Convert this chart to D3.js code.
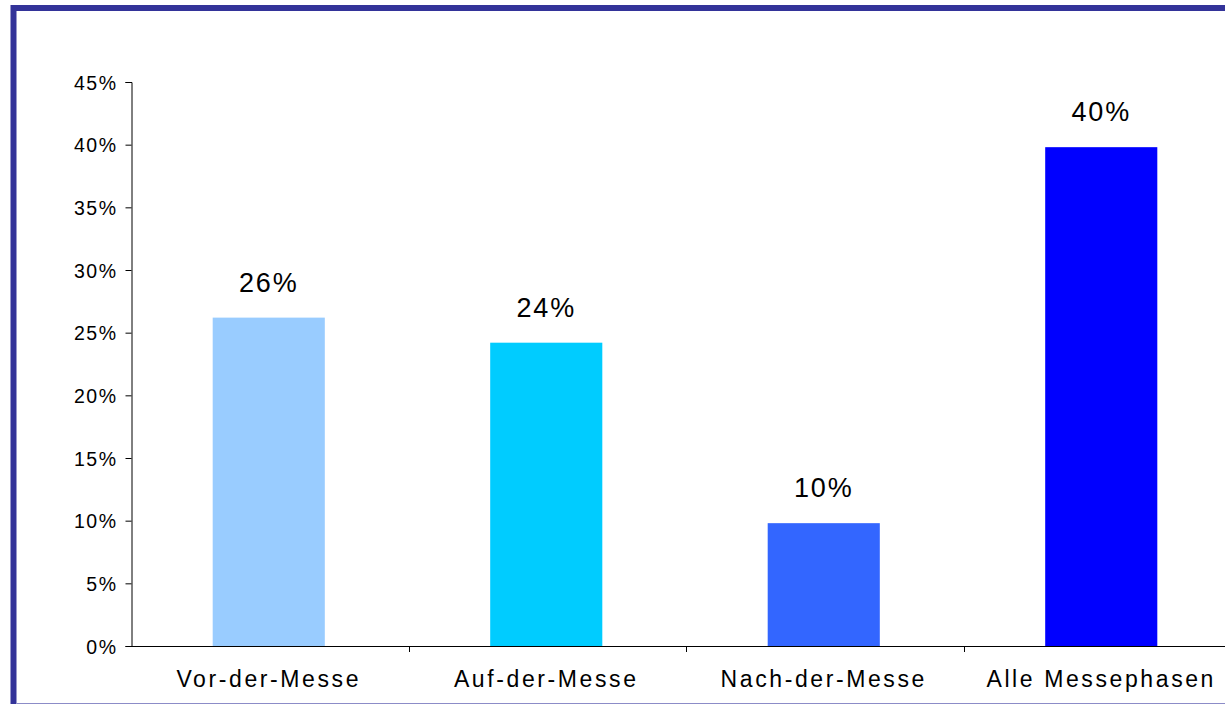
<!DOCTYPE html>
<html><head><meta charset="utf-8">
<script src="https://cdn.jsdelivr.net/npm/d3@7"></script>
<style>html,body{margin:0;padding:0;background:#fff;overflow:hidden}svg{display:block}</style>
</head><body>
<svg id="c" width="1225" height="704"></svg>
<script>
const categories = ["Vor-der-Messe", "Auf-der-Messe", "Nach-der-Messe", "Alle Messephasen"];
const values = [26.2, 24.2, 9.8, 39.8];
const valueLabels = ["26%", "24%", "10%", "40%"];
const colors = ["#99CCFF", "#00CCFF", "#3366FF", "#0000FF"];
const yTicks = [0, 5, 10, 15, 20, 25, 30, 35, 40, 45];

const svg = d3.select("#c");
const font = "'Liberation Sans', Arial, sans-serif";

// frame
svg.append("rect").attr("x", 13.5).attr("y", 8).attr("width", 1300).attr("height", 800)
  .attr("fill", "none").attr("stroke", "#333399").attr("stroke-width", 6);
svg.append("line").attr("x1", 17).attr("x2", 1225).attr("y1", 703.5).attr("y2", 703.5)
  .attr("stroke", "#8c8cc8").attr("stroke-width", 1);

const x0 = 131.5, y0 = 646;
const x = d3.scaleBand().domain(categories).range([130, 1240]).paddingInner(0.596).paddingOuter(0.298);
const y = d3.scaleLinear().domain([0, 45]).range([y0, 82]);

// y axis
const ya = svg.append("g").attr("transform", `translate(${x0},0)`)
  .call(d3.axisLeft(y).tickValues(yTicks).tickSize(6).tickPadding(8).tickFormat(d => d + "%"));
ya.select(".domain").attr("stroke", "#000").attr("stroke-width", 1);
ya.selectAll(".tick line").attr("stroke", "#000");
ya.selectAll(".tick text").attr("font-family", font).attr("font-size", 19.5).attr("fill", "#000")
  .attr("letter-spacing", 1.5).attr("dy", "0.36em");

// bars
svg.selectAll("rect.bar").data(values).enter().append("rect").attr("class", "bar")
  .attr("x", (d, i) => x(categories[i]))
  .attr("width", x.bandwidth())
  .attr("y", d => y(d))
  .attr("height", d => y0 - y(d))
  .attr("fill", (d, i) => colors[i]);

// x axis line
const step = x.step();
const xStart = x(categories[0]) - x.paddingOuter() * step;
svg.append("line").attr("x1", x0).attr("x2", 1225).attr("y1", y0 + 0.5).attr("y2", y0 + 0.5)
  .attr("stroke", "#000").attr("stroke-width", 1);
[1, 2, 3].forEach(k => {
  const tx = Math.round(xStart + k * step) + 1.5;
  svg.append("line").attr("x1", tx).attr("x2", tx).attr("y1", y0).attr("y2", y0 + 6)
    .attr("stroke", "#000");
});

// category labels
svg.selectAll("text.cat").data(categories).enter().append("text").attr("class", "cat")
  .attr("x", d => x(d) + x.bandwidth() / 2)
  .attr("y", 687)
  .attr("text-anchor", "middle")
  .attr("font-family", font).attr("font-size", 23).attr("letter-spacing", 2.6)
  .attr("fill", "#000")
  .text(d => d);

// value labels
svg.selectAll("text.val").data(values).enter().append("text").attr("class", "val")
  .attr("x", (d, i) => x(categories[i]) + x.bandwidth() / 2)
  .attr("y", d => y(d) - 26)
  .attr("text-anchor", "middle")
  .attr("font-family", font).attr("font-size", 27).attr("letter-spacing", 1.8)
  .attr("fill", "#000")
  .text((d, i) => valueLabels[i]);
</script>
</body></html>
